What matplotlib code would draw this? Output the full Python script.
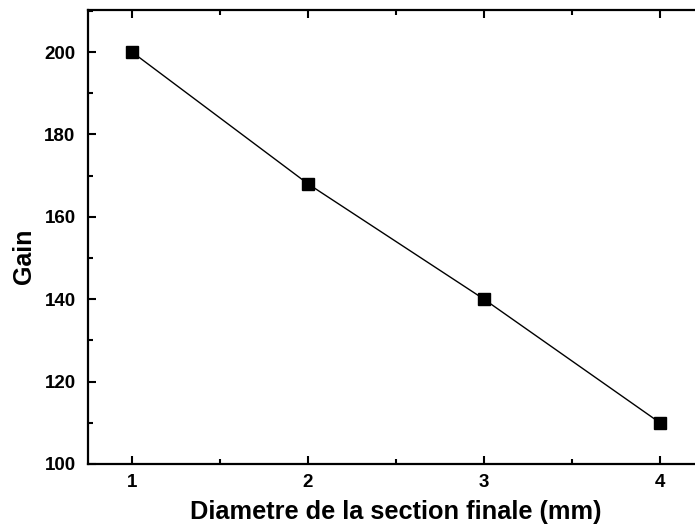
import matplotlib
matplotlib.use("Agg")
import matplotlib.pyplot as plt
from matplotlib.ticker import MultipleLocator

diametre = [1, 2, 3, 4]
gain = [200, 168, 140, 110]

plt.rcParams['font.family'] = ['Liberation Sans', 'DejaVu Sans']
plt.rcParams['font.weight'] = 'bold'

fig = plt.figure(figsize=(6.95, 5.32), dpi=100)
ax = fig.add_axes([88 / 695, 1 - 464 / 532, (704 - 88) / 695, (464 - 10) / 532])

ax.plot(diametre, gain, color='black', linewidth=1.0, marker='s',
        markersize=8, markerfacecolor='black', markeredgecolor='black')

ax.set_xlim(0.75, 4.25)
ax.set_ylim(100, 210.2)
ax.xaxis.set_major_locator(MultipleLocator(1))
ax.xaxis.set_minor_locator(MultipleLocator(0.5))
ax.yaxis.set_major_locator(MultipleLocator(20))
ax.yaxis.set_minor_locator(MultipleLocator(10))

for s in ax.spines.values():
    s.set_linewidth(1.6)
ax.tick_params(which='both', direction='in', top=True, right=True, width=1.5)
ax.tick_params(which='major', length=6, labelsize=13.5)
ax.tick_params(axis='y', which='major', pad=9)
ax.tick_params(axis='x', which='major', pad=7)
ax.tick_params(which='minor', length=3.5)
for lab in ax.get_xticklabels() + ax.get_yticklabels():
    lab.set_fontweight('bold')

ax.set_xlabel('Diametre de la section finale (mm)', fontsize=18.3, fontweight='bold', labelpad=7)
ax.set_ylabel('Gain', fontsize=18, fontweight='bold')
ax.yaxis.set_label_coords(-0.084, 0.458)

fig.savefig('out.png', dpi=100)
